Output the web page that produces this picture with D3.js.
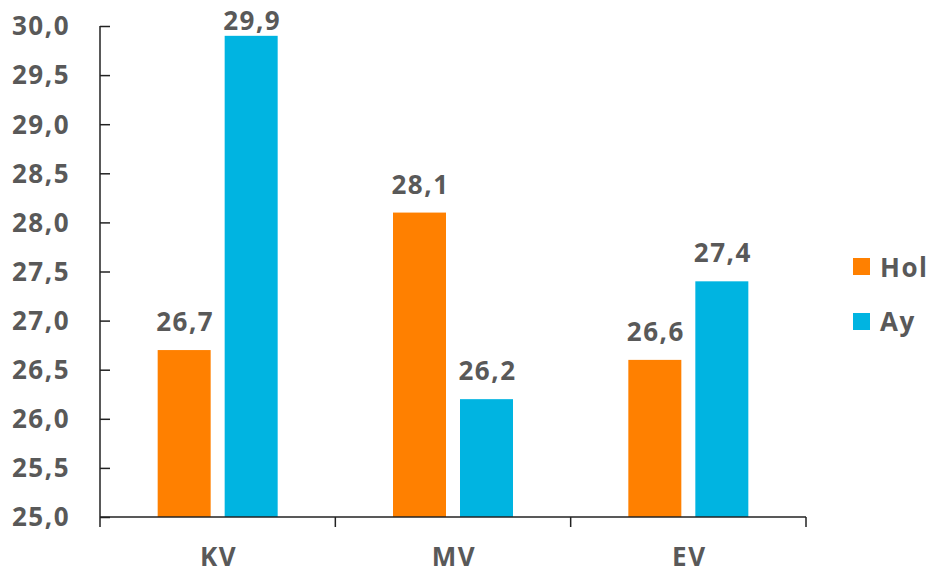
<!DOCTYPE html>
<meta charset="utf-8">
<html>
<script src="https://d3js.org/d3.v7.min.js"></script>
<body style="margin:0;background:#fff;">
<style>
    text {
        font-family: "Open Sans", "Noto Sans", sans-serif;
        font-weight: bold;
        fill: #595959;
        font-size: 26px;
        letter-spacing: 1.5px;
    }
</style>
<div id="chart"></div>
<script>
    // data
    var categories = ["KV", "MV", "EV"];
    var seriesNames = ["Hol", "Ay"];
    var holValues = [26.7, 28.1, 26.6];
    var ayValues = [29.9, 26.2, 27.4];
    var yTicks = [25.0, 25.5, 26.0, 26.5, 27.0, 27.5, 28.0, 28.5, 29.0, 29.5, 30.0];
    var colors = ["#ff8000", "#00b4e1"];

    var W = 927, H = 573;
    var plotLeft = 100, plotRight = 806, plotTop = 26, plotBottom = 517;

    var svg = d3.select("#chart").append("svg")
        .attr("width", W)
        .attr("height", H);

    var x = d3.scaleBand().domain(categories).range([plotLeft, plotRight]);
    var y = d3.scaleLinear().domain([25, 30]).range([plotBottom, plotTop]);

    var barW = 53, gap = 14;
    var fmt = function(v) { return d3.format(".1f")(v).replace(".", ","); };

    var rows = categories.map(function(c, i) {
        return {cat: c, vals: [holValues[i], ayValues[i]]};
    });

    // bars + value labels
    rows.forEach(function(r) {
        var cx = x(r.cat) + x.bandwidth() / 2;
        r.vals.forEach(function(v, j) {
            var bx = j == 0 ? cx - gap / 2 - barW : cx + gap / 2;
            svg.append("rect")
                .attr("x", bx)
                .attr("y", y(v))
                .attr("width", barW)
                .attr("height", y(25) - y(v))
                .style("fill", colors[j]);
            // label sits ~19px above bar, but not above top of picture
            svg.append("text")
                .attr("x", bx + barW / 2 + 1)
                .attr("y", Math.max(y(v) - 19, 30))
                .attr("text-anchor", "middle")
                .text(fmt(v));
        });
    });

    // y axis
    var yAxis = svg.append("g")
        .attr("transform", "translate(" + plotLeft + ",0)")
        .call(d3.axisRight(y).tickValues(yTicks).tickSize(10).tickFormat(""));
    yAxis.selectAll("path, line").attr("stroke", "#222").attr("stroke-width", 1.5);
    yAxis.select(".domain").attr("d", "M0," + plotTop + "V" + plotBottom);

    svg.selectAll("ylab")
        .data(yTicks)
        .enter().append("text")
        .attr("x", 70)
        .attr("y", function(d) { return y(d); })
        .attr("dy", "0.36em")
        .attr("text-anchor", "end")
        .text(fmt);

    // x axis
    var xg = svg.append("g").attr("transform", "translate(0," + plotBottom + ")");
    xg.append("line")
        .attr("x1", plotLeft).attr("x2", plotRight)
        .attr("stroke", "#222").attr("stroke-width", 1.5);
    var edges = [plotLeft].concat(categories.map(function(c) { return x(c) + x.bandwidth(); }));
    xg.selectAll("tick")
        .data(edges)
        .enter().append("line")
        .attr("x1", function(d) { return d; })
        .attr("x2", function(d) { return d; })
        .attr("y1", 0).attr("y2", 10)
        .attr("stroke", "#222").attr("stroke-width", 1.5);
    xg.selectAll("xlab")
        .data(categories)
        .enter().append("text")
        .attr("x", function(d) { return x(d) + x.bandwidth() / 2 + 1; })
        .attr("y", 49)
        .attr("text-anchor", "middle")
        .text(function(d) { return d; });

    // legend
    seriesNames.forEach(function(s, i) {
        svg.append("rect")
            .attr("x", 853)
            .attr("y", 258 + i * 55)
            .attr("width", 17)
            .attr("height", 17)
            .style("fill", colors[i]);
        svg.append("text")
            .attr("x", 880)
            .attr("y", 277 + i * 54)
            .text(s);
    });
</script>
</body>
</html>
